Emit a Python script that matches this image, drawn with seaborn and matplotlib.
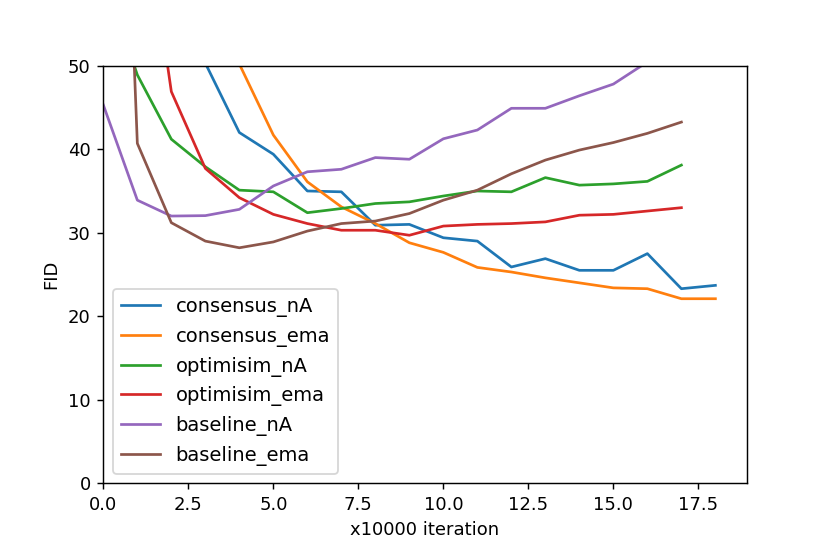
import pandas as pd
import matplotlib
matplotlib.use('Agg')
import matplotlib.pyplot as plt
import seaborn as sns

# FID per checkpoint (x10000 iterations); early values are off the chart (clipped at 50)
consensus_nA = [120, 85, 62, 50.3, 42.0, 39.4, 35.0, 34.9, 30.9, 31.0, 29.4, 29.0, 25.9, 26.9, 25.5, 25.5, 27.5, 23.3, 23.7]
consensus_ema = [140, 100, 75, 60, 50.2, 41.7, 36.1, 33.1, 31.1, 28.8, 27.65, 25.85, 25.3, 24.6, 24.0, 23.4, 23.3, 22.1, 22.1]
optimisim_nA = [61, 48.9, 41.2, 37.9, 35.1, 34.9, 32.4, 32.9, 33.5, 33.7, 34.4, 35.0, 34.9, 36.6, 35.7, 35.85, 36.15, 38.1]
optimisim_ema = [110, 75, 46.9, 37.7, 34.2, 32.2, 31.1, 30.3, 30.3, 29.7, 30.8, 31.0, 31.1, 31.3, 32.1, 32.2, 32.6, 33.0]
baseline_nA = [45.3, 33.9, 32.0, 32.05, 32.8, 35.6, 37.3, 37.6, 39.0, 38.8, 41.25, 42.3, 44.9, 44.9, 46.4, 47.8, 50.45, 52.5]
baseline_ema = [144, 40.7, 31.2, 29.0, 28.2, 28.9, 30.2, 31.1, 31.4, 32.3, 33.9, 35.1, 37.06, 38.7, 39.9, 40.8, 41.9, 43.25]

series = {
    'consensus_nA': consensus_nA,
    'consensus_ema': consensus_ema,
    'optimisim_nA': optimisim_nA,
    'optimisim_ema': optimisim_ema,
    'baseline_nA': baseline_nA,
    'baseline_ema': baseline_ema,
}

frames = []
for name, vals in series.items():
    frames.append(pd.DataFrame({'iter': range(len(vals)), 'FID': vals, 'run': name}))
df = pd.concat(frames, ignore_index=True)

dpi = 130
fig, ax = plt.subplots(figsize=(830 / dpi, 554 / dpi), dpi=dpi)
fig.subplots_adjust(left=0.1245, right=0.8996, top=0.8814, bottom=0.1276)

sns.lineplot(data=df, x='iter', y='FID', hue='run', palette='tab10', linewidth=1.5, ax=ax)

ax.set_ylim(0, 50)
ax.set_xlim(0, 18.92)
ax.set_xlabel('x10000 iteration')
ax.set_ylabel('FID')
ax.legend(loc='lower left', fontsize=10.8)

fig.savefig('out.png', dpi=dpi)
